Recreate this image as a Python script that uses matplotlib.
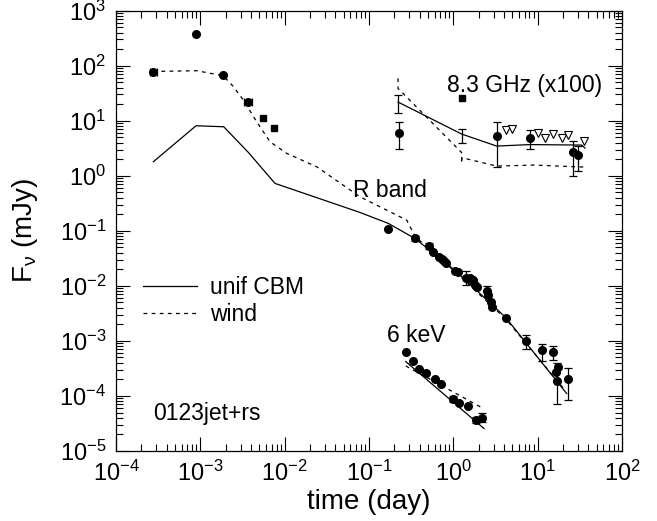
import numpy as np
import matplotlib
matplotlib.use('Agg')
import matplotlib.pyplot as plt

plt.rcParams['font.family'] = ['Liberation Sans', 'DejaVu Sans']
plt.rcParams['mathtext.default'] = 'regular'

# ---- R band, early time (day, mJy)
t_r_early = [8.8e-4, 1.86e-3]
f_r_early = [377, 66.8]
t_r_xerr = [2.77e-4, 3.65e-3]
f_r_xerr = [77.8, 22.1]
dex_r_xerr = [0.045, 0.05]
t_r_sq = [5.58e-3, 7.53e-3]
f_r_sq = [11.3, 7.3]

# ---- R band, late time
t_r = [0.1694, 0.3508, 0.5188, 0.5689, 0.6823, 0.7278, 0.7762, 0.8185, 1.047,
       1.146, 1.413, 1.578, 1.726, 1.811, 1.897, 2.535, 2.606, 2.799, 2.851,
       4.178, 7.278, 11.38, 15.38, 17.62, 16.48, 16.79, 22.65]
f_r = [0.1074, 0.0728, 0.0527, 0.0416, 0.0328, 0.0302, 0.0281, 0.0262, 0.01875,
       0.0180, 0.01419, 0.01361, 0.01268, 0.0103, 0.00959, 0.00813, 0.00678,
       0.00514, 0.00417, 0.00266, 1.0e-3, 6.78e-4, 6.31e-4, 3.41e-4, 2.77e-4,
       1.90e-4, 2.01e-4]
# points with visible error bars: time, value, low, high
t_r_eb = [0.3508, 0.5188, 1.413, 2.535, 7.278, 11.38, 15.38, 16.79, 22.65]
f_r_eb = [0.0728, 0.0527, 0.01419, 0.00813, 1.0e-3, 6.78e-4, 6.31e-4, 1.90e-4, 2.01e-4]
lo_r_eb = [0.0646, 0.0468, 0.0103, 0.0063, 7.2e-4, 4.4e-4, 4.5e-4, 7.1e-5, 8.3e-5]
hi_r_eb = [0.0813, 0.0589, 0.01875, 0.0100, 1.26e-3, 8.9e-4, 8.1e-4, 3.9e-4, 3.2e-4]

# ---- 6 keV X-ray
t_x = [0.273, 0.337, 0.393, 0.471, 0.607, 0.708, 1.0, 1.175, 1.503, 1.841, 2.163]
f_x = [6.38e-4, 4.39e-4, 3.10e-4, 2.65e-4, 2.07e-4, 1.65e-4, 8.81e-5, 7.36e-5,
       6.58e-5, 3.66e-5, 4.03e-5]
t_x_eb = [1.0, 1.841, 2.163]
f_x_eb = [8.81e-5, 3.66e-5, 4.03e-5]
lo_x_eb = [7.9e-5, 3.2e-5, 3.4e-5]
hi_x_eb = [9.8e-5, 4.2e-5, 4.8e-5]

# ---- 8.3 GHz radio (x100)
t_rad = [0.227, 3.27, 8.1, 26.5, 29.9]
f_rad = [6.1, 5.27, 4.84, 2.73, 2.38]
lo_rad = [3.02, 1.44, 3.05, 1.0, 1.2]
hi_rad = [9.35, 9.3, 6.67, 4.27, 3.47]
t_rad_sq = [1.26]
f_rad_sq = [25.5]
# bars without a marker
t_rad_bar = [0.222, 1.26]
lo_rad_bar = [13.6, 3.88]
hi_rad_bar = [29.4, 6.98]
t_rad_ul = [4.22, 5.0, 10.0, 12.3, 15.3, 19.3, 22.7, 35.7]
f_rad_ul = [6.78, 7.06, 6.05, 4.79, 5.73, 4.79, 5.43, 4.34]

# ---- model curves (log10 t, log10 F)
lt_r_unif = [-3.558, -3.051, -2.723, -2.431, -2.115, -1.107, -0.771, -0.455, 0.040, 0.621, 1.344]
lf_r_unif = [0.255, 0.909, 0.891, 0.425, -0.138, -0.666, -0.865, -1.139, -1.745, -2.575, -3.956]
lt_r_wind = [-3.558, -3.043, -2.728, -2.610, -2.491, -2.332, -2.174, -1.976, -1.620,
             -1.107, -0.553, -0.455, 0.040, 0.621, 1.300]
lf_r_wind = [1.896, 1.909, 1.818, 1.624, 1.378, 0.982, 0.618, 0.407, 0.164,
             -0.382, -0.805, -1.100, -1.770, -2.600, -3.850]
lt_x_unif = [-0.564, 0.364]
lf_x_unif = [-3.376, -4.593]
lt_x_wind = [-0.564, 0.335]
lf_x_wind = [-3.455, -4.211]
lt_rad_unif = [-0.656, 0.099, 0.514, 0.909, 1.522, 1.561]
lf_rad_unif = [1.340, 0.758, 0.540, 0.567, 0.558, 0.504]
lt_rad_wind = [-0.656, -0.656, 0.050, 0.099, 0.099, 0.099, 0.514, 0.945, 1.561]
lf_rad_wind = [1.771, 1.589, 0.498, 0.420, 0.227, 0.330, 0.176, 0.195, 0.158]


def p10(a):
    return 10.0 ** np.asarray(a, dtype=float)


def yerr(f, lo, hi):
    f = np.asarray(f, dtype=float)
    return [f - np.asarray(lo), np.asarray(hi) - f]


fig = plt.figure(figsize=(6.57, 5.21), dpi=100)
ax = fig.add_axes([0.1766, 0.1344, 0.7701, 0.8451])
ax.set_xscale('log')
ax.set_yscale('log')

lw = 0.9
dash = (0, (3.0, 3.5))
ms = 5.5
pt = dict(color='black', linestyle='none', capsize=3, elinewidth=0.9, capthick=0.9)

# model lines
ax.plot(p10(lt_r_unif), p10(lf_r_unif), 'k-', lw=lw, label='unif CBM')
ax.plot(p10(lt_r_wind), p10(lf_r_wind), color='k', ls=dash, lw=lw, label='wind')
ax.plot(p10(lt_x_unif), p10(lf_x_unif), 'k-', lw=lw)
ax.plot(p10(lt_x_wind), p10(lf_x_wind), color='k', ls=dash, lw=lw)
ax.plot(p10(lt_rad_unif), p10(lf_rad_unif), 'k-', lw=lw)
ax.plot(p10(lt_rad_wind), p10(lf_rad_wind), color='k', ls=dash, lw=lw)

# R band
ax.errorbar(t_r_early, f_r_early, fmt='o', ms=ms, **pt)
t_r_xerr = np.array(t_r_xerr)
xe = [t_r_xerr - t_r_xerr / p10(dex_r_xerr), t_r_xerr * p10(dex_r_xerr) - t_r_xerr]
ax.errorbar(t_r_xerr, f_r_xerr, xerr=xe, fmt='o', ms=ms, **pt)
ax.errorbar(t_r_sq, f_r_sq, fmt='s', ms=ms - 0.5, **pt)
ax.errorbar(t_r, f_r, fmt='o', ms=ms, **pt)
ax.errorbar(t_r_eb, f_r_eb, yerr=yerr(f_r_eb, lo_r_eb, hi_r_eb), fmt='none', **pt)

# X-ray
ax.errorbar(t_x, f_x, fmt='o', ms=ms, **pt)
ax.errorbar(t_x_eb, f_x_eb, yerr=yerr(f_x_eb, lo_x_eb, hi_x_eb), fmt='none', **pt)

# radio
ax.errorbar(t_rad, f_rad, yerr=yerr(f_rad, lo_rad, hi_rad), fmt='o', ms=ms, **pt)
ax.errorbar(t_rad_sq, f_rad_sq, fmt='s', ms=ms - 0.5, **pt)
mid = np.sqrt(np.array(lo_rad_bar) * np.array(hi_rad_bar))
ax.errorbar(t_rad_bar, mid, yerr=yerr(mid, lo_rad_bar, hi_rad_bar), fmt='none', **pt)
ax.plot(t_rad_ul, f_rad_ul, 'v', ms=5.5, mfc='white', mec='black', mew=0.8, ls='none')

# labels on the curves
fs = 16.5
ax.text(0.177, 0.55, 'R band', fontsize=fs, ha='center', va='center')
ax.text(7.08, 44.6, '8.3 GHz (x100)', fontsize=fs, ha='center', va='center')
ax.text(0.359, 1.27e-3, '6 keV', fontsize=fs, ha='center', va='center')
ax.text(2.75e-4, 4.8e-5, '0123jet+rs', fontsize=fs, ha='left', va='center')

ax.set_xlim(1e-4, 1e2)
ax.set_ylim(1e-5, 1e3)
ax.set_xticks(p10(np.arange(-4, 3)))
ax.set_yticks(p10(np.arange(-5, 4)))
ax.tick_params(which='both', direction='in', top=True, right=True, width=0.8)
ax.tick_params(which='major', length=10, labelsize=17, pad=7)
ax.tick_params(which='minor', length=5)
for s in ax.spines.values():
    s.set_linewidth(0.9)

ax.set_xlabel('time (day)', fontsize=20, labelpad=2)
ax.set_ylabel('F$_{\\mathregular{ν}}$ (mJy)', fontsize=20)
ax.yaxis.set_label_coords(-0.15, 0.5)

ax.legend(loc='upper left', bbox_to_anchor=(0.054, 0.398), frameon=False,
          fontsize=fs, handlelength=2.35, handletextpad=0.55, labelspacing=0.2,
          borderpad=0, borderaxespad=0)

fig.savefig('out.png', dpi=100)
